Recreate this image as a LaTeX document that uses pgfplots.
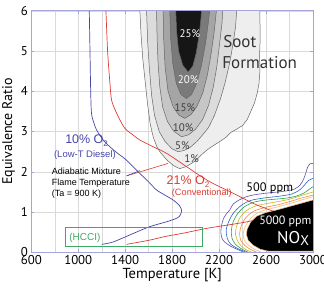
\documentclass[border=0pt]{standalone}
\usepackage{fontspec}
\setmainfont{PT Sans}
\newfontfamily\arial{Liberation Sans}
\usepackage{pgfplots}
\pgfplotsset{compat=1.18}
\newcommand\fs[1]{\fontsize{#1}{#1}\selectfont}
\definecolor{lav}{RGB}{165,165,220}
\definecolor{sA}{RGB}{238,238,238}
\definecolor{sB}{RGB}{220,220,220}
\definecolor{sC}{RGB}{198,198,198}
\definecolor{sD}{RGB}{165,165,165}
\definecolor{sE}{RGB}{122,122,122}
\definecolor{sF}{RGB}{22,22,22}
\definecolor{cblue}{RGB}{70,70,170}
\definecolor{cred}{RGB}{220,60,50}
\definecolor{cgreen}{RGB}{60,170,100}
\definecolor{nP}{RGB}{90,80,170}
\definecolor{nB}{RGB}{40,100,200}
\definecolor{nG}{RGB}{40,160,70}
\definecolor{nY}{RGB}{200,180,40}
\definecolor{nO}{RGB}{240,140,40}
\definecolor{nR}{RGB}{245,185,130}
\begin{document}
\begin{tikzpicture}
\begin{axis}[
 scale only axis, width=281.7pt, height=241.7pt,
 xmin=600, xmax=3000, ymin=0, ymax=6,
 xtick={600,1000,...,3000}, minor xtick={800,1200,...,2800},
 ytick={0,1,...,6},
 grid=both,
 major grid style={black!15, line width=0.4pt},
 minor grid style={black!15, line width=0.4pt},
 axis line style={lav, line width=0.7pt},
 tick style={lav, line width=0.6pt},
 major tick length=3pt, minor tick length=0pt,
 tick align=inside,
 /pgf/number format/assume math mode=true,
 /pgf/number format/1000 sep={},
 ticklabel style={font=\fs{12.8}},
 xticklabel style={yshift=1pt},
 yticklabel style={xshift=0pt},
 xlabel={Temperature [K]}, ylabel={Equivalence Ratio},
 xlabel style={font=\fs{14.5}, at={(axis description cs:0.5,-0.094)}, anchor=center},
 ylabel style={font=\fs{14}, at={(axis description cs:-0.081,0.5)}, anchor=center},
]
% soot contours
\addplot[fill=sA, draw=black!60, line width=0.5pt] coordinates {(1520,6.5)(1525,6)(1535,5.4)(1550,4.8)(1568,4.3)(1590,3.7)(1612,3.2)(1640,2.85)(1670,2.62)(1700,2.48)(1760,2.28)(1820,2.14)(1865,2.08)(1920,2.13)(1960,2.2)(2000,2.28)(2060,2.45)(2100,2.55)(2150,2.65)(2200,2.74)(2260,2.86)(2300,2.98)(2350,3.06)(2400,3.15)(2440,3.3)(2470,3.5)(2500,3.7)(2525,3.95)(2540,4.2)(2548,4.5)(2545,4.9)(2550,5.3)(2547,6)(2547,6.5)} -- cycle;
\addplot[fill=sB, draw=black!60, line width=0.5pt] coordinates {(1580,6.5)(1582,6)(1592,5.2)(1605,4.6)(1625,3.9)(1650,3.4)(1690,3.0)(1740,2.75)(1800,2.57)(1851,2.5)(1900,2.53)(1950,2.6)(2010,2.75)(2060,2.92)(2110,3.1)(2160,3.4)(2210,3.8)(2250,4.2)(2290,4.7)(2320,5.2)(2340,5.6)(2350,6)(2352,6.5)} -- cycle;
\addplot[fill=sC, draw=black!60, line width=0.5pt] coordinates {(1665,6.5)(1667,6)(1672,5.3)(1680,4.7)(1695,4.1)(1720,3.6)(1760,3.25)(1810,3.02)(1880,2.87)(1940,2.92)(2000,3.06)(2060,3.3)(2110,3.65)(2150,4.1)(2180,4.6)(2205,5.2)(2225,5.7)(2231,6)(2233,6.5)} -- cycle;
\addplot[fill=sD, draw=black!60, line width=0.5pt] coordinates {(1721,6.5)(1723,6)(1728,5.3)(1740,4.6)(1765,4.0)(1810,3.6)(1860,3.4)(1908,3.33)(1960,3.42)(2010,3.62)(2060,3.95)(2100,4.4)(2130,4.9)(2155,5.4)(2177,6)(2180,6.5)} -- cycle;
\addplot[fill=sE, draw=black!60, line width=0.5pt] coordinates {(1778,6.5)(1780,6)(1788,5.3)(1805,4.7)(1835,4.2)(1875,3.92)(1922,3.82)(1965,3.92)(2010,4.2)(2050,4.65)(2085,5.2)(2108,5.7)(2120,6)(2122,6.5)} -- cycle;
\addplot[fill=sF, draw=black!60, line width=0.5pt] coordinates {(1829,6.5)(1831,6)(1838,5.5)(1855,5.0)(1890,4.65)(1936,4.48)(1975,4.62)(2005,4.95)(2030,5.4)(2045,5.8)(2050,6)(2052,6.5)} -- cycle;
% NOx contour lines
\addplot[nP, line width=0.6pt, smooth] coordinates {(3050,2.3)(3000,2.21)(2975,2.2)(2955,2.12)(2940,1.98)(2920,1.82)(2890,1.67)(2840,1.57)(2780,1.53)(2700,1.5)(2600,1.47)(2500,1.43)(2430,1.38)(2370,1.3)(2320,1.2)(2290,1.05)(2260,0.95)(2235,0.82)(2220,0.65)(2215,0.5)(2225,0.35)(2250,0.25)(2300,0.15)(2360,0.07)(2410,0)(2430,-0.1)};
\addplot[nB, line width=0.6pt, smooth] coordinates {(3050,1.9)(3000,1.84)(2960,1.78)(2930,1.68)(2890,1.56)(2820,1.45)(2700,1.39)(2580,1.35)(2470,1.29)(2390,1.17)(2320,0.97)(2280,0.75)(2260,0.55)(2270,0.35)(2300,0.2)(2370,0.08)(2430,0)(2450,-0.1)};
\addplot[nG, line width=0.6pt, smooth] coordinates {(3050,1.66)(3000,1.63)(2960,1.55)(2920,1.47)(2850,1.39)(2750,1.34)(2600,1.3)(2500,1.25)(2420,1.14)(2360,0.97)(2320,0.76)(2305,0.55)(2310,0.35)(2340,0.2)(2400,0.07)(2450,0)(2470,-0.1)};
\addplot[nY, line width=0.6pt, smooth] coordinates {(3050,1.52)(3000,1.5)(2900,1.41)(2800,1.32)(2700,1.26)(2600,1.21)(2500,1.14)(2420,1.01)(2370,0.82)(2345,0.6)(2340,0.45)(2355,0.3)(2390,0.15)(2440,0.05)(2480,0)(2500,-0.1)};
\addplot[nO, line width=0.6pt, smooth] coordinates {(3050,1.44)(3000,1.42)(2900,1.35)(2800,1.26)(2700,1.18)(2600,1.12)(2500,1.03)(2430,0.87)(2390,0.67)(2375,0.47)(2385,0.3)(2420,0.17)(2470,0.07)(2520,0)(2540,-0.1)};
\addplot[nR, line width=0.6pt, smooth] coordinates {(3050,1.4)(3000,1.38)(2900,1.3)(2800,1.21)(2700,1.13)(2600,1.06)(2520,0.97)(2460,0.81)(2420,0.62)(2405,0.45)(2415,0.3)(2450,0.18)(2500,0.08)(2560,0.0)(2580,-0.1)};
% adiabatic flame temperature curves
\addplot[cblue, line width=0.7pt, smooth] coordinates {(1094,6)(1100,5)(1106,4)(1113,3.45)(1135,3.2)(1156,3.04)(1210,2.8)(1270,2.62)(1340,2.45)(1411,2.29)(1525,1.96)(1600,1.75)(1667,1.55)(1740,1.42)(1809,1.3)(1860,1.17)(1880,1.05)(1870,0.93)(1840,0.85)(1752,0.76)(1610,0.64)(1468,0.47)(1298,0.26)(1199,0.2)};
\addplot[cred, line width=0.7pt, smooth] coordinates {(1236,6)(1250,5)(1270,4.2)(1284,3.78)(1320,3.5)(1355,3.29)(1397,3.08)(1460,2.93)(1525,2.79)(1640,2.62)(1752,2.46)(1922,2.13)(2050,1.88)(2149,1.71)(2319,1.47)(2489,1.22)(2645,1.04)(2750,0.95)(2800,0.88)(2700,0.82)(2520,0.8)(2420,0.75)(2319,0.70)(2100,0.6)(1900,0.48)(1750,0.4)(1600,0.3)(1412,0.2)};
% NOx 5000 ppm region
\addplot[fill=black, draw=nR, line width=0.5pt] coordinates {(3100,1.3)(3000,1.3)(2900,1.22)(2800,1.14)(2700,1.06)(2600,0.99)(2520,0.9)(2470,0.76)(2440,0.58)(2432,0.45)(2448,0.3)(2490,0.18)(2550,0.08)(2620,0.03)(3100,0.03)} -- cycle;
% frame on top
\draw[lav, line width=0.7pt] (rel axis cs:0,0) rectangle (rel axis cs:1,1);
% annotations
\draw[cred, line width=0.6pt] (axis cs:1412,1.9) -- (axis cs:1766,2.21);
\draw[cblue, line width=0.6pt] (axis cs:1412,1.9) -- (axis cs:1525,2.03);
\draw[cgreen, line width=0.7pt] (axis cs:893,0.14) rectangle (axis cs:2055,0.61);
\node[cgreen, font=\arial\fs{10}] at (axis cs:1057,0.37) {(HCCI)};
\node[cblue, font=\arial\fs{12.5}] at (axis cs:1071,2.78) {10\% O\raisebox{-0.45ex}{\fs{8}2}};
\node[cblue, font=\arial\fs{9.5}] at (axis cs:1057,2.42) {(Low-T Diesel)};
\node[cred, font=\arial\fs{12.5}] at (axis cs:1935,1.75) {21\% O\raisebox{-0.45ex}{\fs{8}2}};
\node[cred, font=\arial\fs{9.2}] at (axis cs:2053,1.46) {(Conventional)};
\node[anchor=west, align=left, font=\arial\fontsize{9}{11}\selectfont, inner sep=0pt] at (axis cs:773,1.71) {Adiabatic Mixture\\Flame Temperature\\(Ta = 900 K)};
\node[white, font=\fs{11}] at (axis cs:1951,5.44) {25\%};
\node[white, font=\fs{11}] at (axis cs:1936,4.28) {20\%};
\node[black!75, font=\fs{11}] at (axis cs:1908,3.6) {15\%};
\node[black!75, font=\fs{11}] at (axis cs:1894,3.1) {10\%};
\node[black!75, font=\fs{11}] at (axis cs:1888,2.66) {5\%};
\node[black!75, font=\fs{11}] at (axis cs:1965,2.33) {1\%};
\node[anchor=west, font=\fs{17}, inner sep=0pt, black!80] at (axis cs:2234,5.23) {Soot};
\node[anchor=west, font=\fs{17}, inner sep=0pt, black!80] at (axis cs:2226,4.72) {Formation};
\node[font=\fs{12.3}] at (axis cs:2632,1.6) {500 ppm};
\node[white, font=\fs{12}] at (axis cs:2765,0.76) {5000 ppm};
\node[white, font=\fs{17}] at (axis cs:2830,0.35) {NO\raisebox{-0.3ex}{\fs{14}X}};
\end{axis}
\pgfresetboundingbox
\path[use as bounding box] ([shift={(-31.3pt,-37.7pt)}]current axis.south west) rectangle ([shift={(11pt,10.7pt)}]current axis.north east);
\end{tikzpicture}
\end{document}
